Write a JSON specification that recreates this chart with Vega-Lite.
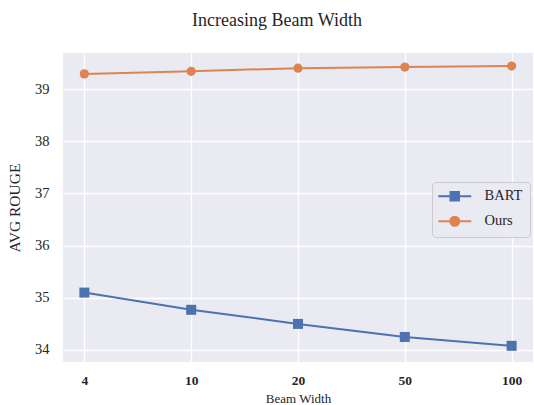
{
  "$schema": "https://vega.github.io/schema/vega-lite/v6.json",
  "autosize": "none",
  "width": 470,
  "height": 309,
  "padding": {"left": 63, "top": 53, "right": 1, "bottom": 43},
  "background": "white",
  "title": {"text": "Increasing Beam Width", "font": "Liberation Serif", "fontSize": 18, "fontWeight": "normal", "color": "#262626", "anchor": "middle", "dx": -21, "offset": 23},
  "config": {
    "font": "Liberation Serif",
    "view": {"fill": "#eaeaf2", "stroke": null},
    "axis": {"domain": false, "ticks": false, "grid": true, "gridColor": "white", "gridWidth": 1.3, "labelFont": "Liberation Serif", "titleFont": "Liberation Serif", "labelColor": "#262626", "titleColor": "#262626", "titleFontWeight": "normal"},
    "legend": {"labelFont": "Liberation Serif"}
  },
  "data": {"values": [
    {"beam": "4", "series": "BART", "rouge": 35.10},
    {"beam": "10", "series": "BART", "rouge": 34.77},
    {"beam": "20", "series": "BART", "rouge": 34.50},
    {"beam": "50", "series": "BART", "rouge": 34.25},
    {"beam": "100", "series": "BART", "rouge": 34.08},
    {"beam": "4", "series": "Ours", "rouge": 39.29},
    {"beam": "10", "series": "Ours", "rouge": 39.34},
    {"beam": "20", "series": "Ours", "rouge": 39.40},
    {"beam": "50", "series": "Ours", "rouge": 39.42},
    {"beam": "100", "series": "Ours", "rouge": 39.44}
  ]},
  "encoding": {
    "x": {"field": "beam", "type": "ordinal", "sort": ["4", "10", "20", "50", "100"], "scale": {"type": "point", "padding": 0.2},
      "axis": {"title": "Beam Width", "grid": true, "labelFont": "Liberation Serif", "labelAngle": 0, "labelFontSize": 13.5, "labelFontWeight": "bold", "labelPadding": 11, "titleFontSize": 13, "titlePadding": 6}},
    "y": {"field": "rouge", "type": "quantitative", "scale": {"domain": [33.77, 39.69], "nice": false, "zero": false},
      "axis": {"title": "AVG ROUGE", "labelFont": "Liberation Serif", "values": [34, 35, 36, 37, 38, 39], "labelFontSize": 14.5, "labelPadding": 14, "titleFontSize": 15.5, "titlePadding": 12}}
  },
  "layer": [
    {"mark": {"type": "line", "strokeWidth": 2},
     "encoding": {"color": {"field": "series", "type": "nominal", "scale": {"domain": ["BART", "Ours"], "range": ["#4c72b0", "#dd8452"]}, "legend": null}}},
    {"mark": {"type": "point", "filled": true, "opacity": 1},
     "encoding": {
       "color": {"field": "series", "type": "nominal", "scale": {"domain": ["BART", "Ours"], "range": ["#4c72b0", "#dd8452"]}, "legend": null},
       "shape": {"field": "series", "type": "nominal", "scale": {"domain": ["BART", "Ours"], "range": ["square", "circle"]}, "legend": null},
       "size": {"field": "series", "type": "nominal", "scale": {"domain": ["BART", "Ours"], "range": [100, 85]}, "legend": null}}},
    {"mark": {"type": "point", "opacity": 0, "strokeWidth": 2},
     "encoding": {
       "fill": {"field": "series", "type": "nominal", "scale": {"domain": ["BART", "Ours"], "range": ["#4c72b0", "#dd8452"]}, "legend": {"title": null}},
       "stroke": {"field": "series", "type": "nominal", "scale": {"domain": ["BART", "Ours"], "range": ["#4c72b0", "#dd8452"]}, "legend": {"title": null}},
       "shape": {"field": "series", "type": "nominal", "scale": {"domain": ["BART", "Ours"], "range": ["M-3.3,0H3.3M-0.85,-0.85H0.85V0.85H-0.85Z", "M-3.3,0H3.3M-0.9,0A0.9,0.9,0,1,0,0.9,0A0.9,0.9,0,1,0,-0.9,0Z"]},
         "legend": {"title": null, "orient": "none", "legendX": 369, "legendY": 129, "symbolSize": 100, "symbolStrokeWidth": 2, "symbolOpacity": 1, "symbolOffset": 8.5,
           "labelFont": "Liberation Serif", "labelFontSize": 14.5, "labelColor": "#262626", "labelOffset": 22.5, "rowPadding": 7,
           "padding": 7, "fillColor": "#eaeaf2", "strokeColor": "#cccccc", "cornerRadius": 4,
           "encode": {"symbols": {"update": {"opacity": {"value": 1}}}}}}}}
  ],
  "resolve": {"scale": {"fill": "independent", "stroke": "independent", "shape": "independent"}}
}
